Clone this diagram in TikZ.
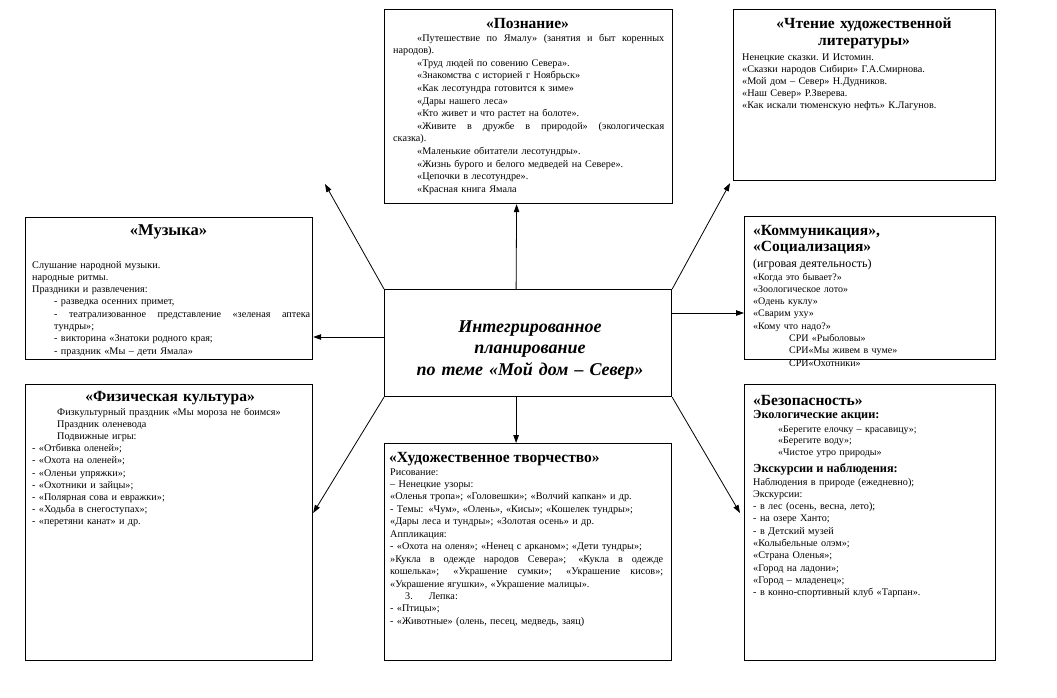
\documentclass[tikz,border=0pt]{standalone}
\usepackage{fontspec}
\setmainfont{Liberation Serif}
\usetikzlibrary{arrows.meta,calc}
\newcommand\jl[2]{\leavevmode\hbox to #1{\spaceskip=0pt\xspaceskip=0pt #2}}
\begin{document}
\begin{tikzpicture}[x=1pt,y=-1pt,
  box/.style={draw, line width=1.2pt, inner sep=0pt, anchor=north west},
  body/.style={inner sep=0pt, anchor=base west, align=left, font=\fontsize{10.2}{12.4}\selectfont},
  ttl/.style={inner sep=0pt, anchor=base, align=center, font=\bfseries\fontsize{15.5}{17}\selectfont},
  ttlw/.style={inner sep=0pt, anchor=base west, align=left, font=\bfseries\fontsize{15.5}{16}\selectfont},
  sub/.style={inner sep=0pt, anchor=base west, align=left, font=\bfseries\fontsize{12.3}{14}\selectfont},
  arr/.style={-{Triangle[length=8pt,width=5.5pt]}, line width=0.8pt}]
\fill[white] (0,0) rectangle (1057,697);
\useasboundingbox (0,0) rectangle (1057,697);

% boxes
\node[box, minimum width=288pt, minimum height=194pt] (poz) at (384,9) {};
\node[box, minimum width=262pt, minimum height=171pt] (cht) at (733,9) {};
\node[box, minimum width=287pt, minimum height=142pt] (muz) at (25,217) {};
\node[box, minimum width=251pt, minimum height=143pt] (kom) at (744,216) {};
\node[box, minimum width=287pt, minimum height=107pt] (cen) at (384,289) {};
\node[box, minimum width=287pt, minimum height=276pt] (fiz) at (25,384) {};
\node[box, minimum width=287pt, minimum height=217pt] (hud) at (384,443) {};
\node[box, minimum width=251pt, minimum height=276pt] (bez) at (744,384) {};

% centre
\node[inner sep=0pt, anchor=base, text width=284pt, align=center,
  font=\bfseries\itshape\fontsize{18}{21.5}\selectfont] (cenT) at (530,332)
  {Интегрированное\\планирование\\по теме «Мой дом – Север»};

% Познание
\node[ttl, text width=270pt] (pozT) at (527.5,28) {«Познание»};
\node[body, text width=271pt, font=\fontsize{10.2}{12.6}\selectfont] (pozB) at (393,41) {%
\jl{271pt}{\hspace{24pt}«Путешествие по Ямалу» (занятия и быт коренных}\\
народов).\\
\hspace*{24pt}«Труд людей по совению Севера».\\
\hspace*{24pt}«Знакомства с историей г Ноябрьск»\\
\hspace*{24pt}«Как лесотундра готовится к зиме»\\
\hspace*{24pt}«Дары нашего леса»\\
\hspace*{24pt}«Кто живет и что растет на болоте».\\
\jl{271pt}{\hspace{24pt}«Живите в дружбе в природой» (экологическая}\\
сказка).\\
\hspace*{24pt}«Маленькие обитатели лесотундры».\\
\hspace*{24pt}«Жизнь бурого и белого медведей на Севере».\\
\hspace*{24pt}«Цепочки в лесотундре».\\
\hspace*{24pt}«Красная книга Ямала};

% Чтение
\node[ttl, text width=250pt] (chtT) at (864,28) {«Чтение художественной\\литературы»};
\node[body, text width=245pt, font=\fontsize{10.2}{12}\selectfont] (chtB) at (742,60) {%
Ненецкие сказки.\ И Истомин.\\
«Сказки народов Сибири» Г.А.Смирнова.\\
«Мой дом – Север» Н.Дудников.\\
«Наш Север» Р.Зверева.\\
«Как искали тюменскую нефть» К.Лагунов.};

% Музыка
\node[ttl, text width=270pt, font=\bfseries\fontsize{16.5}{17}\selectfont] (muzT) at (168.5,235) {«Музыка»};
\node[body, text width=278pt, font=\fontsize{10.2}{12.3}\selectfont] (muzB) at (32,268) {%
Слушание народной музыки.\\
народные ритмы.\\
Праздники и развлечения:\\
\hspace*{22pt}- разведка осенних примет,\\
\hspace*{22pt}\jl{256pt}{- театрализованное представление «зеленая аптека}\\
\hspace*{22pt}тундры»;\\
\hspace*{22pt}- викторина «Знатоки родного края;\\
\hspace*{22pt}- праздник «Мы – дети Ямала»};

% Коммуникация
\node[ttlw, text width=240pt] (komT) at (753,235) {«Коммуникация»,\\«Социализация»};
\node[body, font=\fontsize{12}{14}\selectfont] (komS) at (753,267) {(игровая деятельность)};
\node[body, text width=240pt, font=\fontsize{10}{12.3}\selectfont] (komB) at (753,280) {%
«Когда это бывает?»\\
«Зоологическое лото»\\
«Одень куклу»\\
«Сварим уху»\\
«Кому что надо?»\\
\hspace*{36pt}СРИ «Рыболовы»\\
\hspace*{36pt}СРИ«Мы живем в чуме»\\
\hspace*{36pt}СРИ«Охотники»};

% Физическая культура
\node[ttl, text width=270pt] (fizT) at (170,401) {«Физическая культура»};
\node[body, text width=275pt, font=\fontsize{10.2}{12.2}\selectfont] (fizB) at (32,415) {%
\hspace*{25pt}Физкультурный праздник «Мы мороза не боимся»\\
\hspace*{25pt}Праздник оленевода\\
\hspace*{25pt}Подвижные игры:\\
- «Отбивка оленей»;\\
- «Охота на оленей»;\\
- «Оленьи упряжки»;\\
- «Охотники и зайцы»;\\
- «Полярная сова и евражки»;\\
- «Ходьба в снегоступах»;\\
- «перетяни канат» и др.};

% Художественное творчество
\node[ttlw] (hudT) at (389,462) {«Художественное творчество»};
\node[body, text width=273pt, font=\fontsize{10.2}{12.45}\selectfont] (hudB) at (390,475) {%
Рисование:\\
– Ненецкие узоры:\\
«Оленья тропа»; «Головешки»; «Волчий капкан» и др.\\
- Темы: «Чум», «Олень», «Кисы»; «Кошелек тундры»;\\
«Дары леса и тундры»; «Золотая осень» и др.\\
Аппликация:\\
- «Охота на оленя»; «Ненец с арканом»; «Дети тундры»;\\
\jl{273pt}{»Кукла в одежде народов Севера»; «Кукла в одежде}\\
\jl{273pt}{кошелька»; «Украшение сумки»; «Украшение кисов»;}\\
«Украшение ягушки», «Украшение малицы».\\
\hspace*{15pt}3.\hspace*{16pt}Лепка:\\
- «Птицы»;\\
- «Животные» (олень, песец, медведь, заяц)};

% Безопасность
\node[ttlw] (bezT) at (753,405) {«Безопасность»};
\node[sub] (bezS1) at (753,418) {Экологические акции:};
\node[body, text width=210pt, font=\fontsize{10}{11.6}\selectfont] (bezL) at (778,432) {%
«Берегите елочку – красавицу»;\\
«Берегите воду»;\\
«Чистое утро природы»};
\node[sub] (bezS2) at (753,472) {Экскурсии и наблюдения:};
\node[body, text width=235pt, font=\fontsize{10.2}{12.3}\selectfont] (bezB) at (753,485) {%
Наблюдения в природе (ежедневно);\\
Экскурсии:\\
- в лес (осень, весна, лето);\\
- на озере Ханто;\\
- в Детский музей\\
«Колыбельные олэм»;\\
«Страна Оленья»;\\
«Город на ладони»;\\
«Город – младенец»;\\
- в конно-спортивный клуб «Тарпан».};

% connectors
\coordinate (free) at (325,184);
\coordinate (yL) at (0,337);
\coordinate (yR) at (0,313);
\coordinate (yB) at (0,513);
\draw[arr] ([xshift=-12pt]cen.north) -- ([xshift=-12pt]poz.south);
\draw[arr] (cen.north west) -- (free);
\draw[arr] (cen.north east) -- ([shift={(-3pt,-2pt)}]cht.south west);
\draw[arr] (cen.west |- yL) -- (muz.east |- yL);
\draw[arr] (cen.east |- yR) -- (kom.west |- yR);
\draw[arr] ([xshift=-12pt]cen.south) -- ([xshift=-12pt]hud.north);
\draw[arr] (cen.south west) -- (fiz.east |- yB);
\draw[arr] (cen.south east) -- ([xshift=-4pt]bez.west |- yB);
\end{tikzpicture}
\end{document}
